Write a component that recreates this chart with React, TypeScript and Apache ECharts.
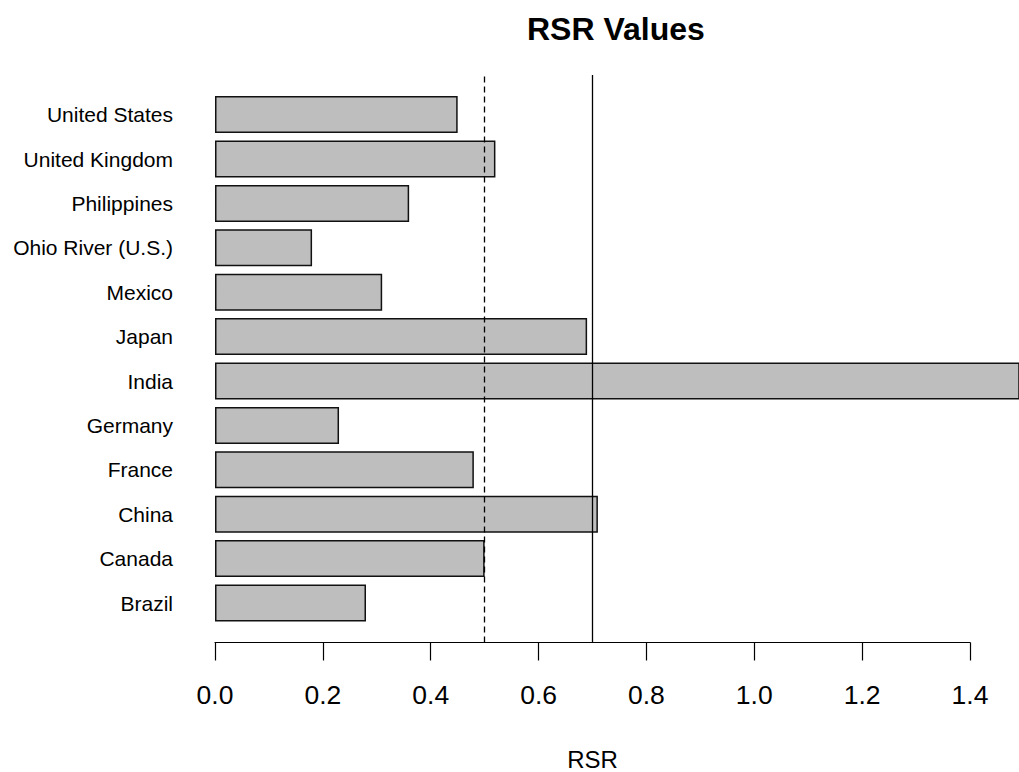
import React, { useEffect, useRef } from "react";
import * as echarts from "echarts";

const categories = [
  "Brazil",
  "Canada",
  "China",
  "France",
  "Germany",
  "India",
  "Japan",
  "Mexico",
  "Ohio River (U.S.)",
  "Philippines",
  "United Kingdom",
  "United States",
];
const rsrValues = [0.28, 0.5, 0.71, 0.48, 0.23, 1.6, 0.69, 0.31, 0.18, 0.36, 0.52, 0.45];
const referenceLines = [
  { value: 0.5, type: "dashed" },
  { value: 0.7, type: "solid" },
];
const tickMax = 1.4;
const tickInterval = 0.2;

const FONT = "'Liberation Sans', Arial, sans-serif";

export default function App() {
  const ref = useRef<HTMLDivElement>(null);
  useEffect(() => {
    if (!ref.current) return;
    const chart = echarts.init(ref.current, null, { renderer: "svg" });
    const left = 215;
    const axisWidth = 755;
    const pxPerUnit = axisWidth / tickMax;
    const totalWidth = 1019 - left;
    const dataMax = totalWidth / pxPerUnit;
    chart.setOption({
      animation: false,
      backgroundColor: "#ffffff",
      title: {
        text: "RSR Values",
        left: 522,
        top: 8,
        textStyle: { fontFamily: FONT, fontSize: 32, fontWeight: "bold", color: "#000" },
      },
      grid: [
        { left: left, right: 0, top: 92.4, bottom: 146.8, containLabel: false, outerBoundsMode: "none" },
        { left: left, width: axisWidth, top: 75, bottom: 129.5, containLabel: false, outerBoundsMode: "none" },
      ],
      xAxis: [
        { type: "value", gridIndex: 0, min: 0, max: dataMax, show: false },
        {
          type: "value",
          gridIndex: 1,
          min: 0,
          max: tickMax,
          interval: tickInterval,
          name: "RSR",
          nameLocation: "middle",
          nameGap: 106,
          nameTextStyle: { fontFamily: FONT, fontSize: 24, lineHeight: 22, color: "#000" },
          axisLine: { show: true, lineStyle: { color: "#000", width: 1.2 } },
          axisTick: { show: true, length: 18, lineStyle: { color: "#000", width: 1.2 } },
          axisLabel: {
            margin: 39,
            fontFamily: FONT,
            fontSize: 26.5,
            color: "#000",
            formatter: (v: number) => v.toFixed(1),
          },
          splitLine: { show: false },
        },
      ],
      yAxis: [
        {
          type: "category",
          gridIndex: 0,
          data: categories,
          axisLine: { show: false },
          axisTick: { show: false },
          axisLabel: { margin: 42, fontFamily: FONT, fontSize: 21, color: "#000", padding: [4, 0, 0, 0] },
        },
        { type: "value", gridIndex: 1, min: 0, max: 1, show: false },
      ],
      series: [
        {
          type: "bar",
          xAxisIndex: 0,
          yAxisIndex: 0,
          data: rsrValues,
          barWidth: 37,
          clip: true,
          itemStyle: { color: "#BEBEBE", borderColor: "#111", borderWidth: 1.5 },
        },
        {
          type: "line",
          xAxisIndex: 1,
          yAxisIndex: 1,
          data: [],
          symbol: "none",
          z: 10,
          markLine: {
            silent: true,
            symbol: ["none", "none"],
            label: { show: false },
            data: referenceLines.map((r) => ({
              xAxis: r.value,
              lineStyle: { color: "#000", width: 1.3, type: r.type === "dashed" ? [6, 4] : "solid" },
            })),
          },
        },
      ],
    });
    return () => chart.dispose();
  }, []);
  return (
    <div
      ref={ref}
      style={{ position: "fixed", left: 0, top: 0, width: 1019, height: 772, background: "#fff" }}
    />
  );
}
